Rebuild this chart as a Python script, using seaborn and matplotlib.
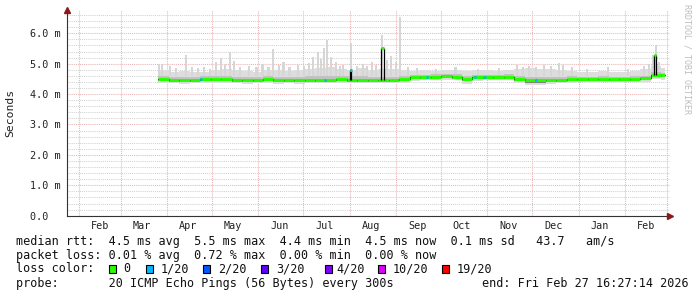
import numpy as np
import pandas as pd
import matplotlib
matplotlib.use("Agg")
import matplotlib.pyplot as plt
import matplotlib.dates as mdates
from matplotlib.patches import Rectangle
from matplotlib.ticker import MultipleLocator, FixedLocator, FuncFormatter
import seaborn as sns

# ---------------- data ----------------
first_week = "2025-03-26"
n_weeks = 49
end_time = "2026-02-27 16:27:14"
view_days = 400

median_ms = [4.49, 4.48, 4.47, 4.48, 4.49, 4.50, 4.49, 4.48, 4.47, 4.48,
             4.50, 4.47, 4.48, 4.47, 4.48, 4.48, 4.48, 4.49, 4.48, 4.48,
             4.48, 4.48, 4.48, 4.50, 4.55, 4.56, 4.57, 4.58, 4.57, 4.49,
             4.55, 4.56, 4.56, 4.57, 4.50, 4.45, 4.45, 4.46, 4.48, 4.49,
             4.49, 4.49, 4.50, 4.49, 4.49, 4.49, 4.52, 4.64, 4.62]
smoke_max = [4.80, 4.74, 4.76, 4.72, 4.74, 4.78, 4.82, 4.80, 4.76, 4.74,
             4.78, 4.80, 4.76, 4.78, 4.84, 4.86, 4.90, 4.82, 4.80, 4.86,
             4.80, 4.82, 4.84, 4.80, 4.76, 4.78, 4.76, 4.80, 4.78, 4.76,
             4.78, 4.78, 4.76, 4.78, 4.84, 4.86, 4.84, 4.82, 4.80, 4.76,
             4.74, 4.74, 4.76, 4.74, 4.74, 4.76, 4.82, 4.92, 4.86]
smoke_q3 = [4.58, 4.57, 4.56, 4.57, 4.58, 4.59, 4.58, 4.57, 4.56, 4.57,
            4.59, 4.56, 4.57, 4.56, 4.58, 4.58, 4.59, 4.59, 4.58, 4.58,
            4.57, 4.57, 4.57, 4.59, 4.63, 4.64, 4.65, 4.66, 4.65, 4.59,
            4.63, 4.64, 4.64, 4.65, 4.60, 4.56, 4.56, 4.56, 4.57, 4.58,
            4.57, 4.57, 4.58, 4.57, 4.57, 4.58, 4.61, 4.72, 4.70]
smoke_q1 = [4.42, 4.41, 4.40, 4.41, 4.42, 4.43, 4.42, 4.41, 4.40, 4.41,
            4.43, 4.40, 4.41, 4.40, 4.41, 4.41, 4.41, 4.42, 4.41, 4.41,
            4.41, 4.41, 4.41, 4.43, 4.49, 4.50, 4.51, 4.52, 4.51, 4.42,
            4.49, 4.50, 4.50, 4.51, 4.43, 4.38, 4.38, 4.39, 4.41, 4.42,
            4.43, 4.43, 4.44, 4.43, 4.43, 4.43, 4.46, 4.57, 4.55]
smoke_min = [4.36, 4.35, 4.33, 4.35, 4.36, 4.37, 4.36, 4.35, 4.33, 4.35,
             4.37, 4.33, 4.35, 4.34, 4.35, 4.35, 4.35, 4.36, 4.35, 4.35,
             4.35, 4.35, 4.35, 4.38, 4.44, 4.45, 4.46, 4.47, 4.46, 4.34,
             4.44, 4.45, 4.45, 4.46, 4.36, 4.30, 4.30, 4.32, 4.35, 4.37,
             4.39, 4.39, 4.40, 4.39, 4.39, 4.39, 4.41, 4.51, 4.48]

smoke_spike_dates = ["2025-03-26", "2025-03-28", "2025-04-02", "2025-04-06", "2025-04-13",
                     "2025-04-17", "2025-04-21", "2025-04-25", "2025-04-29", "2025-05-03",
                     "2025-05-06", "2025-05-09", "2025-05-12", "2025-05-15", "2025-05-19",
                     "2025-05-25", "2025-05-30", "2025-06-03", "2025-06-07", "2025-06-10",
                     "2025-06-14", "2025-06-17", "2025-06-21", "2025-06-27", "2025-07-01",
                     "2025-07-04", "2025-07-07", "2025-07-10", "2025-07-12", "2025-07-14",
                     "2025-07-16", "2025-07-19", "2025-07-22", "2025-07-25", "2025-07-27",
                     "2025-08-01", "2025-08-05", "2025-08-09", "2025-08-12", "2025-08-15",
                     "2025-08-18", "2025-08-22", "2025-08-25", "2025-08-28", "2025-08-31",
                     "2025-09-03", "2025-09-08", "2025-09-14", "2025-09-27", "2025-10-10",
                     "2025-10-25", "2025-11-08", "2025-11-20", "2025-11-24", "2025-11-28",
                     "2025-12-03", "2025-12-08", "2025-12-13", "2025-12-18", "2025-12-21",
                     "2025-12-27", "2026-01-06", "2026-01-20", "2026-02-02", "2026-02-13",
                     "2026-02-16", "2026-02-19", "2026-02-21", "2026-02-23"]
smoke_spike_tops = [5.00, 4.98, 4.92, 4.85, 5.28,
                    4.90, 4.86, 4.88, 4.84, 5.05,
                    5.18, 4.98, 5.38, 5.08, 4.90,
                    4.92, 4.88, 4.98, 4.90, 5.50,
                    4.95, 5.05, 4.90, 4.96, 4.92,
                    5.02, 5.22, 5.40, 5.15, 5.52,
                    5.78, 5.22, 5.05, 4.94, 4.95,
                    5.67, 4.92, 4.98, 4.92, 5.05,
                    4.96, 5.94, 5.12, 5.25, 5.05,
                    6.55, 4.88, 4.86, 4.84, 4.88,
                    4.84, 4.86, 4.95, 4.90, 4.92,
                    4.90, 4.95, 4.92, 5.02, 4.96,
                    4.88, 4.84, 4.88, 4.84, 4.92,
                    4.98, 5.30, 5.60, 5.05]

jump_dates = ["2025-08-01", "2025-08-22", "2026-02-20"]
jump_tops = [4.80, 5.50, 5.30]
jump_days = [1.0, 1.8, 1.8]

loss_dates = ["2025-04-23", "2025-07-15", "2025-08-01", "2025-09-21",
              "2025-10-23", "2025-10-30", "2025-12-03"]
loss_vals = [4.50, 4.48, 4.80, 4.57, 4.56, 4.57, 4.45]

y_ticks = [0, 1, 2, 3, 4, 5, 6]
y_tick_labels = ["0.0  ", "1.0 m", "2.0 m", "3.0 m", "4.0 m", "5.0 m", "6.0 m"]

loss_labels = ["0", "1/20", "2/20", "3/20", "4/20", "10/20", "19/20"]
loss_colors = ["#26ff00", "#00b8ff", "#0059ff", "#5e00ff", "#7e00ff", "#dd00ff", "#ff0000"]

stats_line1 = "median rtt:  4.5 ms avg  5.5 ms max  4.4 ms min  4.5 ms now  0.1 ms sd   43.7   am/s"
stats_line2 = "packet loss: 0.01 % avg  0.72 % max  0.00 % min  0.00 % now"
stats_line3 = "loss color:"
stats_line4 = "probe:       20 ICMP Echo Pings (56 Bytes) every 300s"
end_line = "end: Fri Feb 27 16:27:14 2026"
credit = "RRDTOOL / TOBI OETIKER"

# ---------------- figure ----------------
sns.set_style("white")
plt.rcParams["font.family"] = ["DejaVu Sans Mono", "DejaVu Sans"]
W, H = 697, 297
fig = plt.figure(figsize=(W / 100, H / 100), dpi=100)
fig.patch.set_facecolor("white")

ax_l, ax_r, ax_b, ax_t = 66.5, 670, 215.7, 10
ax = fig.add_axes([ax_l / W, 1 - ax_b / H, (ax_r - ax_l) / W, (ax_b - ax_t) / H])

end = pd.Timestamp(end_time)
start = end - pd.Timedelta(days=view_days)
px_per_day = (665 - ax_l) / view_days
x_right = end + pd.Timedelta(days=(ax_r - 665) / px_per_day)
ax.set_xlim(start, x_right)
ymax = 6.0 * (ax_b - ax_t) / (ax_b - 33.3)
ax.set_ylim(0, ymax)

weeks = pd.date_range(first_week, periods=n_weeks, freq="7D")
edges = list(weeks) + [end]
df = pd.DataFrame({"t": edges,
                   "median": median_ms + [median_ms[-1]],
                   "mx": smoke_max + [smoke_max[-1]],
                   "q3": smoke_q3 + [smoke_q3[-1]],
                   "q1": smoke_q1 + [smoke_q1[-1]],
                   "mn": smoke_min + [smoke_min[-1]]})

# grid
grid_red = "#eab4b4"
grid_gray = "#d2d2d2"
ax.yaxis.set_major_locator(FixedLocator(y_ticks))
ax.yaxis.set_major_formatter(FuncFormatter(lambda v, p: y_tick_labels[int(round(v))] if int(round(v)) < len(y_tick_labels) else ""))
ax.yaxis.set_minor_locator(MultipleLocator(0.2))
ax.xaxis.set_major_locator(mdates.MonthLocator(bymonthday=1))
ax.xaxis.set_major_formatter(plt.NullFormatter())
ax.xaxis.set_minor_locator(mdates.MonthLocator(bymonthday=15))
ax.xaxis.set_minor_formatter(mdates.DateFormatter("%b"))
ax.grid(which="major", axis="both", color=grid_red, lw=0.75, ls=(0, (1, 1)))
ax.grid(which="minor", axis="y", color=grid_gray, lw=0.75, ls=(0, (1, 1)))
ax.set_axisbelow(True)

# smoke
ax.fill_between(df["t"], df["mn"], df["mx"], step="post", color="#dddddd", lw=0, zorder=2)
sd = pd.to_datetime(smoke_spike_dates)
ax.bar(sd, np.array(smoke_spike_tops) - 4.6, bottom=4.6, width=1.4, align="edge",
       color="#d6d6d6", lw=0, zorder=2)
ax.fill_between(df["t"], df["q1"], df["q3"], step="post", color="#c2c2c2", lw=0, zorder=3)
ax.fill_between(df["t"], df["q1"], df["median"], step="post", color="#808080", lw=0, zorder=3)

# median line
sns.lineplot(data=df, x="t", y="median", ax=ax, drawstyle="steps-post",
             color="black", lw=0.8, zorder=4, legend=False)
ax.hlines(median_ms, weeks, edges[1:], color=loss_colors[0], lw=2.2, zorder=5)

jd = pd.to_datetime(jump_dates)
for d, top, w in zip(jd, jump_tops, jump_days):
    idx = max(0, np.searchsorted(weeks, d, side="right") - 1)
    base = median_ms[idx]
    d1 = d + pd.Timedelta(days=w)
    ax.vlines([d, d1], base, top, color="black", lw=0.9, zorder=6)
    ax.hlines(top, d, d1, color=loss_colors[0], lw=2.2, zorder=6)

ld = pd.to_datetime(loss_dates)
ax.hlines(loss_vals, ld, ld + pd.Timedelta(days=1.3), color=loss_colors[1], lw=2.2, zorder=7)

# axes styling
for s in ["top", "right"]:
    ax.spines[s].set_visible(False)
for s in ["left", "bottom"]:
    ax.spines[s].set_color("#333333")
    ax.spines[s].set_linewidth(0.8)
    ax.spines[s].set_zorder(8)
ax.tick_params(axis="y", which="major", length=3, width=0.8, color="#333333",
               pad=1.5, labelsize=7.3, labelcolor="#222222")
ax.tick_params(axis="y", which="minor", length=0)
ax.tick_params(axis="x", which="major", length=0)
ax.tick_params(axis="x", which="minor", length=0, pad=3.5, labelsize=7.3, labelcolor="#222222")
ax.set_xlabel("")
ax.set_ylabel("")

# arrow heads
ax.plot([1], [0], marker=">", color="#8b1a1a", markersize=4, transform=ax.transAxes,
        clip_on=False, zorder=9)
ax.plot([0], [1], marker="^", color="#8b1a1a", markersize=4, transform=ax.transAxes,
        clip_on=False, zorder=9)

# texts
fig.text(10 / W, 1 - 113 / H, "Seconds", rotation=90, ha="center", va="center",
         fontsize=8.2, color="#222222")
fig.text(687 / W, 1 - 4 / H, credit, rotation=270, ha="center", va="top",
         fontsize=6.0, color="#bdbdbd")

fs = 8.5
rows = [241.3, 255.3, 268.7, 283.7]
fig.text(16 / W, 1 - rows[0] / H, stats_line1, fontsize=fs, va="center", color="#111111")
fig.text(16 / W, 1 - rows[1] / H, stats_line2, fontsize=fs, va="center", color="#111111")
fig.text(16 / W, 1 - rows[2] / H, stats_line3, fontsize=fs, va="center", color="#111111")
fig.text(16 / W, 1 - rows[3] / H, stats_line4, fontsize=fs, va="center", color="#111111")
fig.text(481.5 / W, 1 - rows[3] / H, end_line, fontsize=fs, va="center", color="#111111")

box_x = [108.7, 146.0, 203.0, 260.7, 325.3, 377.7, 442.3]
lab_x = [123.3, 160.7, 218.3, 276.0, 336.0, 392.3, 456.7]
for bx, lx, lab, col in zip(box_x, lab_x, loss_labels, loss_colors):
    fig.add_artist(Rectangle((bx / W, 1 - 272.7 / H), 7 / W, 7.4 / H,
                             transform=fig.transFigure, facecolor=col,
                             edgecolor="black", lw=0.8))
    fig.text(lx / W, 1 - rows[2] / H, lab, fontsize=fs, va="center", color="#111111")

fig.savefig("out.png", dpi=100, facecolor="white")
